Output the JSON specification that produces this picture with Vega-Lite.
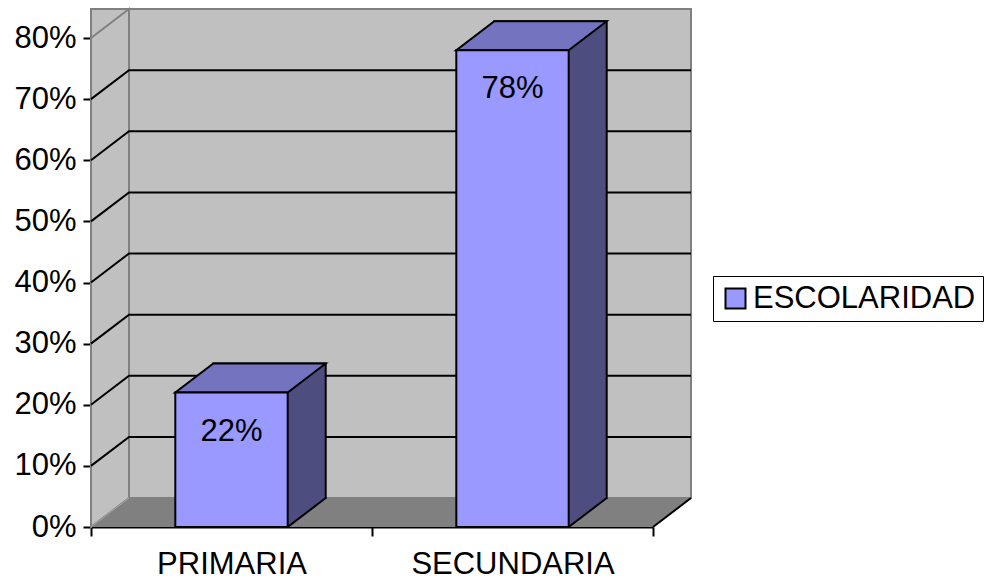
{
  "$schema": "https://vega.github.io/schema/vega-lite/v6.json",
  "width": 562,
  "height": 489,
  "autosize": {"type": "none"},
  "padding": {"left": 91, "top": 38, "right": 332, "bottom": 52},
  "background": "white",
  "data": {"name": "escolaridad"},
  "datasets": {
    "escolaridad": [
      {"nivel": "PRIMARIA", "valor": 0.22, "serie": "ESCOLARIDAD"},
      {"nivel": "SECUNDARIA", "valor": 0.78, "serie": "ESCOLARIDAD"}
    ],
    "marcas": [
      {"t": 0.1}, {"t": 0.2}, {"t": 0.3}, {"t": 0.4}, {"t": 0.5}, {"t": 0.6}, {"t": 0.7}
    ],
    "uno": [{"id": 1}]
  },
  "config": {
    "view": {"stroke": null},
    "axisX": {
      "tickBand": "extent", "tickSize": 9, "tickWidth": 2, "tickColor": "black",
      "domainColor": "black", "domainWidth": 2, "labelFont": "Liberation Sans",
      "labelFontSize": 31, "labelColor": "black", "labelPadding": 13, "labelAngle": 0,
      "labelLimit": 0, "grid": false, "zindex": 1
    },
    "axisY": {
      "tickCount": 8, "tickSize": 8, "tickWidth": 2, "tickColor": "black",
      "domainColor": "black", "domainWidth": 2, "labelFont": "Liberation Sans",
      "labelFontSize": 31, "labelColor": "black", "labelPadding": 7,
      "grid": false, "zindex": 1
    }
  },
  "layer": [
    {
      "data": {"name": "uno"},
      "mark": {"type": "rect", "fill": "#c0c0c0", "stroke": "#808080", "strokeWidth": 2,
               "xOffset": 38, "x2Offset": 38, "yOffset": -29, "y2Offset": -29},
      "encoding": {
        "y": {"datum": 0.8, "type": "quantitative", "title": null,
              "scale": {"domain": [0, 0.8], "nice": false}},
        "y2": {"datum": 0}
      }
    },
    {
      "data": {"name": "uno"},
      "mark": {"type": "point", "filled": true, "opacity": 1, "size": 4,
               "fill": "#c0c0c0", "stroke": "#808080", "strokeWidth": 2,
               "shape": "M -140.5 0 L -102.5 -29 L -102.5 460 L -140.5 489 Z"},
      "encoding": {
        "x": {"datum": "PRIMARIA", "type": "nominal", "title": null,
              "scale": {"domain": ["PRIMARIA", "SECUNDARIA"], "paddingInner": 0, "paddingOuter": 0}},
        "y": {"datum": 0.8, "type": "quantitative", "title": null}
      }
    },
    {
      "data": {"name": "uno"},
      "mark": {"type": "point", "filled": true, "opacity": 1, "size": 4,
               "fill": "#808080", "strokeWidth": 0,
               "shape": "M -140.5 0 L 421.5 0 L 459.5 -29 L -102.5 -29 Z"},
      "encoding": {
        "x": {"datum": "PRIMARIA", "type": "nominal", "title": null},
        "y": {"datum": 0, "type": "quantitative", "title": null}
      }
    },
    {
      "data": {"name": "uno"},
      "mark": {"type": "point", "filled": false, "opacity": 1, "size": 4,
               "stroke": "#a8a8a8", "strokeWidth": 1,
               "shape": "M -140.5 0 L -102.5 -29"},
      "encoding": {
        "x": {"datum": "PRIMARIA", "type": "nominal", "title": null},
        "y": {"datum": 0, "type": "quantitative", "title": null}
      }
    },
    {
      "data": {"name": "uno"},
      "mark": {"type": "point", "filled": false, "opacity": 1, "size": 4,
               "stroke": "black", "strokeWidth": 2,
               "shape": "M 421.5 0 L 459.5 -29"},
      "encoding": {
        "x": {"datum": "PRIMARIA", "type": "nominal", "title": null},
        "y": {"datum": 0, "type": "quantitative", "title": null}
      }
    },
    {
      "data": {"name": "marcas"},
      "mark": {"type": "point", "filled": false, "opacity": 1, "size": 4,
               "stroke": "black", "strokeWidth": 2,
               "shape": "M -140.5 0 L -102.5 -29 L 459.5 -29"},
      "encoding": {
        "x": {"datum": "PRIMARIA", "type": "nominal", "title": null},
        "y": {"field": "t", "type": "quantitative", "title": null}
      }
    },
    {
      "mark": {"type": "bar", "width": {"band": 0.4}, "fill": "#4d4d80", "stroke": "black", "strokeWidth": 2,
               "xOffset": 38, "x2Offset": 38, "yOffset": -29, "y2Offset": -29},
      "encoding": {
        "x": {"field": "nivel", "type": "nominal", "title": null},
        "y": {"field": "valor", "type": "quantitative", "title": null},
        "y2": {"datum": 0}
      }
    },
    {
      "mark": {"type": "point", "filled": true, "opacity": 1, "size": 4,
               "fill": "#4d4d80", "strokeWidth": 0,
               "shape": "M 56.2 0 L 56.2 -31 L 93.2 -31 L 93.2 -28.2 Z"},
      "encoding": {
        "x": {"field": "nivel", "type": "nominal", "title": null},
        "y": {"datum": 0, "type": "quantitative", "title": null}
      }
    },
    {
      "mark": {"type": "point", "filled": false, "opacity": 1, "size": 4,
               "stroke": "black", "strokeWidth": 2,
               "shape": "M 56.2 0 L 94.2 -29"},
      "encoding": {
        "x": {"field": "nivel", "type": "nominal", "title": null},
        "y": {"datum": 0, "type": "quantitative", "title": null}
      }
    },
    {
      "mark": {"type": "point", "filled": true, "opacity": 1, "size": 4,
               "fill": "#7373bf", "stroke": "black", "strokeWidth": 2, "strokeJoin": "miter",
               "shape": "M -56.2 0 L 56.2 0 L 94.2 -29 L -18.2 -29 Z"},
      "encoding": {
        "x": {"field": "nivel", "type": "nominal", "title": null},
        "y": {"field": "valor", "type": "quantitative", "title": null}
      }
    },
    {
      "mark": {"type": "bar", "width": {"band": 0.4}, "stroke": "black", "strokeWidth": 2},
      "encoding": {
        "x": {"field": "nivel", "type": "nominal", "title": null},
        "y": {"field": "valor", "type": "quantitative", "title": null, "axis": {"format": ".0%"}},
        "y2": {"datum": 0},
        "color": {
          "field": "serie", "type": "nominal",
          "scale": {"range": ["#9999ff"]},
          "legend": {
            "title": null, "orient": "none", "legendX": 622, "legendY": 238,
            "symbolType": "square", "symbolSize": 400, "symbolStrokeColor": "black",
            "symbolStrokeWidth": 2, "labelFont": "Liberation Sans", "labelFontSize": 31,
            "labelColor": "black", "labelOffset": 2, "labelLimit": 0, "padding": 7,
            "strokeColor": "black", "fillColor": "white"
          }
        }
      }
    },
    {
      "mark": {"type": "text", "font": "Liberation Sans", "fontSize": 31, "color": "black",
               "baseline": "alphabetic", "dy": 48},
      "encoding": {
        "x": {"field": "nivel", "type": "nominal", "title": null},
        "y": {"field": "valor", "type": "quantitative", "title": null},
        "text": {"field": "valor", "type": "quantitative", "format": ".0%"}
      }
    }
  ]
}
